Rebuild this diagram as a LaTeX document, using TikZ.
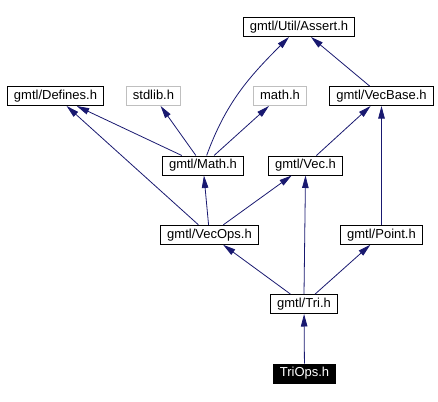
\documentclass[tikz,border=0pt]{standalone}
\usepackage{fontspec}
\setmainfont{Liberation Sans}
\usepackage{tikz}
\usetikzlibrary{arrows.meta}
\definecolor{edgeblue}{RGB}{25,25,112}
\definecolor{sysgray}{RGB}{191,191,191}
\tikzset{
  filebox/.style={draw=black, line width=1pt, fill=white, inner xsep=6.5pt, inner ysep=0pt,
    minimum height=19pt, text height=9.5pt, text depth=2.8pt, font=\fontsize{13pt}{15pt}\selectfont},
  sysbox/.style={filebox, draw=sysgray},
  mainbox/.style={filebox, fill=black, text=white},
  incl/.style={draw=edgeblue, line width=0.8pt, -{Triangle[length=12.5pt,width=6.5pt]}}
}
\newcommand{\hfile}[4]{ \node[filebox] (#1) at ( #2 , -#3 ) {#4};}
\newcommand{\sysfile}[4]{ \node[sysbox] (#1) at ( #2 , -#3 ) {#4};}
\newcommand{\dep}[2]{ \draw[incl] (#1) -- (#2);}

\begin{document}
\begin{tikzpicture}[x=1pt,y=1pt]
        \useasboundingbox (0,0) rectangle (438,-401);

        \hfile{assert}{299}{27}{gmtl/Util/Assert.h}
        \hfile{defines}{55.5}{96}{gmtl/Defines.h}
        \sysfile{stdlib}{153.5}{96}{stdlib.h}
        \sysfile{mathh}{280}{96}{math.h}
        \hfile{vecbase}{381.5}{96}{gmtl/VecBase.h}
        \hfile{math}{203}{165.5}{gmtl/Math.h}
        \hfile{vec}{305.5}{165.5}{gmtl/Vec.h}
        \hfile{vecops}{209.5}{234.8}{gmtl/VecOps.h}
        \hfile{point}{381.5}{234.8}{gmtl/Point.h}
        \hfile{tri}{304}{304}{gmtl/Tri.h}
        \node[mainbox] (triops) at (304.5,-373.5) {TriOps.h};

        % includes
        \dep{triops}{tri}
        \dep{tri}{vecops}
        \dep{tri.north}{vec.south}
        \dep{tri}{point}
        \dep{vecops}{defines}
        \dep{vecops}{math}
        \dep{vecops}{vec}
        \dep{math}{defines}
        \dep{math}{stdlib}
        \dep{math}{mathh}
        \draw[incl] (math) to[out=70,in=225] (assert);
        \dep{vec}{vecbase}
        \dep{point}{vecbase}
        \dep{vecbase}{assert}
    \end{tikzpicture}
\end{document}
